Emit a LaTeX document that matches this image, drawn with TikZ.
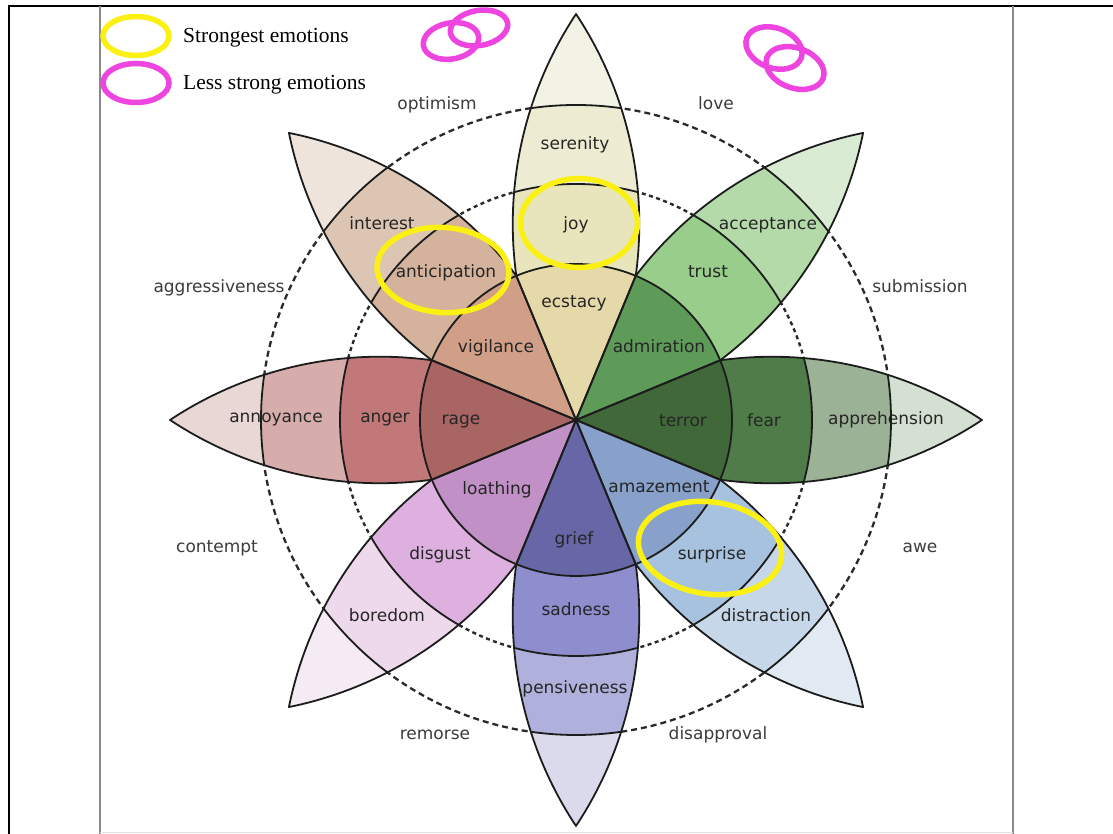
\documentclass[tikz,border=0pt]{standalone}
\usepackage{fontspec}
\newfontfamily\labfont{DejaVu Sans}
\newfontfamily\legfont{Liberation Serif}
% petal colours: T = tip, O = outer ring, M = middle ring, I = inner wedge
\definecolor{joyT}{HTML}{F3F3E5}\definecolor{joyO}{HTML}{EDECD3}\definecolor{joyM}{HTML}{E8E5BD}\definecolor{joyI}{HTML}{E5D9A9}
\definecolor{truT}{HTML}{DAEBD4}\definecolor{truO}{HTML}{B4DAAA}\definecolor{truM}{HTML}{99CD8C}\definecolor{truI}{HTML}{5F9B58}
\definecolor{feaT}{HTML}{D4E0D1}\definecolor{feaO}{HTML}{9CB296}\definecolor{feaM}{HTML}{4F7C48}\definecolor{feaI}{HTML}{406838}
\definecolor{surT}{HTML}{E1E9F2}\definecolor{surO}{HTML}{C6D7E9}\definecolor{surM}{HTML}{A7C2DE}\definecolor{surI}{HTML}{87A1CA}
\definecolor{sadT}{HTML}{DADAEC}\definecolor{sadO}{HTML}{B0B0DC}\definecolor{sadM}{HTML}{8E8ECF}\definecolor{sadI}{HTML}{6767A8}
\definecolor{disT}{HTML}{F5EBF5}\definecolor{disO}{HTML}{EED9EC}\definecolor{disM}{HTML}{DDB0E0}\definecolor{disI}{HTML}{C190C6}
\definecolor{angT}{HTML}{E8D7D5}\definecolor{angO}{HTML}{D6ADAB}\definecolor{angM}{HTML}{C27878}\definecolor{angI}{HTML}{A86563}
\definecolor{antT}{HTML}{EFE4DB}\definecolor{antO}{HTML}{DCC5B3}\definecolor{antM}{HTML}{D5B29B}\definecolor{antI}{HTML}{D19F88}
\definecolor{edgec}{HTML}{1C1C1C}
\definecolor{ringc}{HTML}{2A2A2A}
\definecolor{inlab}{HTML}{262626}
\definecolor{outlab}{HTML}{3C3C3C}
\definecolor{framegray}{HTML}{8A8A8A}
\definecolor{hiyel}{RGB}{250,240,20}
\definecolor{himag}{RGB}{238,68,224}
\newcommand\petalpath{(0,0) -- (22.5:156) arc[start angle=97.843, end angle=56.47, radius=380.17] arc[start angle=-56.47, end angle=-97.843, radius=380.17] -- cycle}
\tikzset{
  edge/.style={line width=1.8pt, draw=edgec, line join=round},
  outerring/.style={line width=2.3pt, draw=ringc, dash pattern=on 6pt off 4pt},
  innerring/.style={line width=2.4pt, draw=ringc, dash pattern=on 4pt off 3.5pt},
  lab/.style={font=\labfont\fontsize{17}{19}\selectfont, text=inlab, inner sep=0pt, text height=12pt, text depth=3.5pt},
  olab/.style={lab, text=outlab},
  leg/.style={font=\legfont\fontsize{21.5}{24}\selectfont, text=black, inner sep=0pt, anchor=west},
  yelring/.style={line width=5.5pt, draw=hiyel},
  magring/.style={line width=5.5pt, draw=himag},
  framebold/.style={line width=2.5pt, draw=black},
  framethin/.style={line width=2pt, draw=framegray}
}
\begin{document}
\begin{tikzpicture}[x=1pt,y=1pt]
\useasboundingbox (0,0) rectangle (1113,834);
\fill[white] (0,0) rectangle (1113,834);
% frame
\draw[framebold] (9,0) -- (9,828) -- (1113,828);
\draw[framethin] (100,0) -- (100,828);
\draw[framethin] (1013,0) -- (1013,828);
\draw[line width=1pt, draw=black!12] (100,1) -- (1013,1);
% dashed rings between petals
\coordinate (O) at (576,414);
\draw[outerring] (O) circle (315);
\draw[innerring] (O) circle (236);
% petal fills
\foreach \ang/\ct/\co/\cm/\ci in {90/joyT/joyO/joyM/joyI, 45/truT/truO/truM/truI, 0/feaT/feaO/feaM/feaI, -45/surT/surO/surM/surI, -90/sadT/sadO/sadM/sadI, -135/disT/disO/disM/disI, 180/angT/angO/angM/angI, 135/antT/antO/antM/antI}{
  \begin{scope}[shift={(576,414)}, rotate=\ang]
    \begin{scope}
      \clip \petalpath;
      \fill[\ct] (-5,-80) rectangle (420,80);
      \fill[\co] (0,0) circle (315);
      \fill[\cm] (0,0) circle (236);
      \fill[\ci] (0,0) circle (156);
    \end{scope}
  \end{scope}
}
% labels inside petals
\node[lab] (serenity) at (575,689) {serenity};
\node[lab] (joy) at (576,609) {joy};
\node[lab] (ecstacy) at (574,531) {ecstacy};
\node[lab] (acceptance) at (768,609) {acceptance};
\node[lab] (trust) at (708,561) {trust};
\node[lab] (admiration) at (659,486) {admiration};
\node[lab] (apprehension) at (886,414) {apprehension};
\node[lab] (fear) at (764,412) {fear};
\node[lab] (terror) at (683,412) {terror};
\node[lab] (distraction) at (766,217) {distraction};
\node[lab] (surprise) at (712,279) {surprise};
\node[lab] (amazement) at (659,346) {amazement};
\node[lab] (pensiveness) at (575,145) {pensiveness};
\node[lab] (sadness) at (576,223) {sadness};
\node[lab] (grief) at (574,294) {grief};
\node[lab] (boredom) at (387,217) {boredom};
\node[lab] (disgust) at (440,279) {disgust};
\node[lab] (loathing) at (497,344) {loathing};
\node[lab] (annoyance) at (276,416) {annoyance};
\node[lab] (anger) at (385,416) {anger};
\node[lab] (rage) at (461,414) {rage};
\node[lab] (interest) at (382,609) {interest};
\node[lab] (anticipation) at (446,561) {anticipation};
\node[lab] (vigilance) at (496,486) {vigilance};
% petal lines
\foreach \ang in {90,45,0,-45,-90,-135,180,135}{
  \begin{scope}[shift={(576,414)}, rotate=\ang]
    \begin{scope}
      \clip \petalpath;
      \draw[edge] (0,0) circle (315) (0,0) circle (236) (0,0) circle (156);
    \end{scope}
    \draw[edge] \petalpath;
  \end{scope}
}
% labels between petals
\node[olab] (optimism) at (437,729) {optimism};
\node[olab] (love) at (716,729) {love};
\node[olab] (aggressiveness) at (219,546) {aggressiveness};
\node[olab] (submission) at (920,546) {submission};
\node[olab] (contempt) at (217,286) {contempt};
\node[olab] (awe) at (920,286) {awe};
\node[olab] (remorse) at (435,99) {remorse};
\node[olab] (disapproval) at (718,99) {disapproval};
% highlight rings
\draw[yelring] (579,611) ellipse [x radius=58.5, y radius=44.5];
\draw[yelring, rotate around={-4:(443,564)}] (443,564) ellipse [x radius=66, y radius=42.5];
\draw[yelring, rotate around={-8:(710,286)}] (710,286) ellipse [x radius=72, y radius=46];
% magenta ring pairs
\draw[magring, rotate around={10:(451,793)}] (451,793) ellipse [x radius=28, y radius=18];
\draw[magring, rotate around={10:(479,806)}] (479,806) ellipse [x radius=29, y radius=17.5];
\draw[magring, rotate around={-20:(774,786)}] (774,786) ellipse [x radius=29, y radius=20];
\draw[magring, rotate around={-20:(795,766)}] (795,766) ellipse [x radius=30, y radius=20];
% legend
\draw[yelring] (136,798) ellipse [x radius=33, y radius=19.5];
\draw[magring] (136,751) ellipse [x radius=33, y radius=19.5];
\node[leg] (strong) at (183,796) {Strongest emotions};
\node[leg] (lessstrong) at (183,749) {Less strong emotions};
\end{tikzpicture}
\end{document}
